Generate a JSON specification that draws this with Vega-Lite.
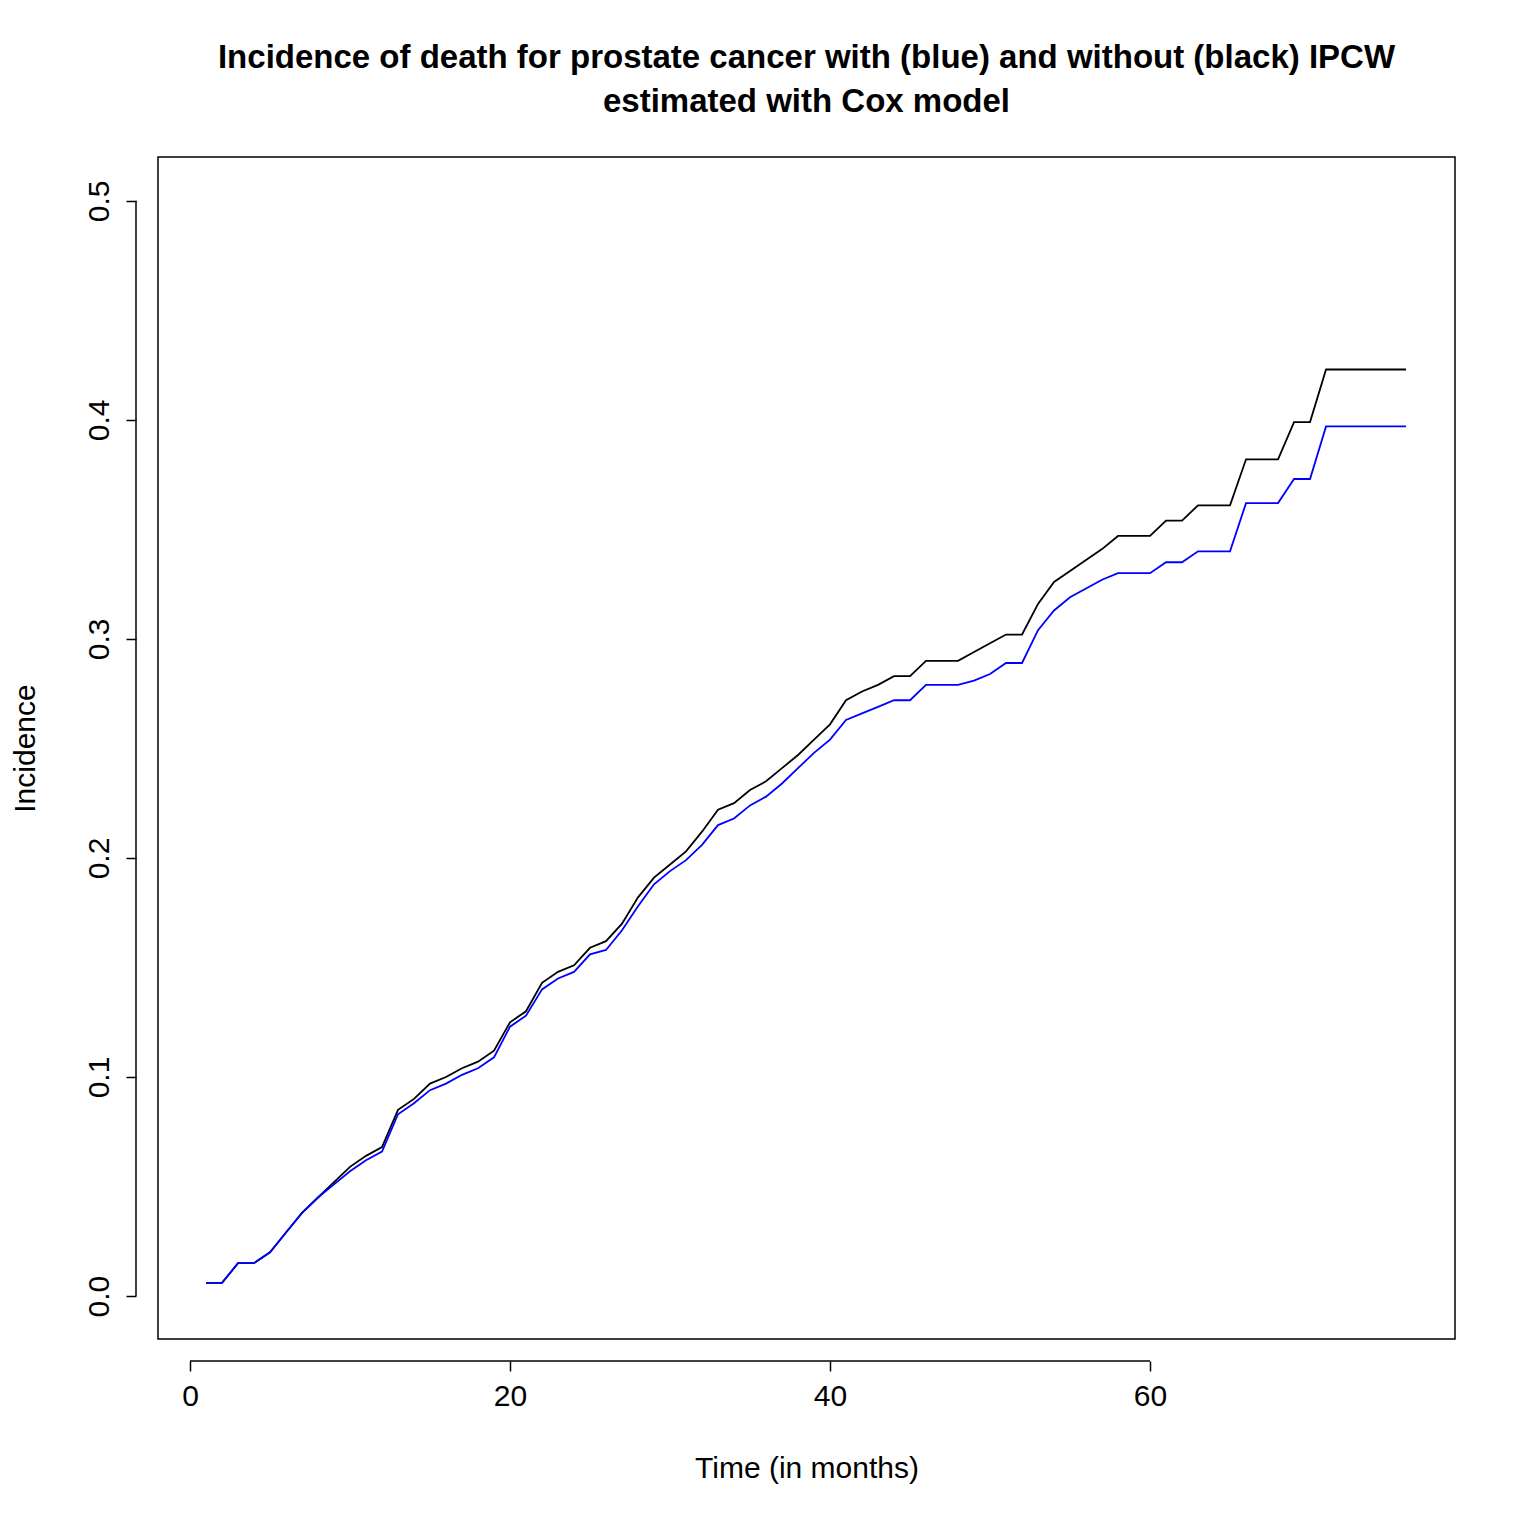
{
  "$schema": "https://vega.github.io/schema/vega-lite/v6.json",
  "autosize": "none",
  "width": 1297,
  "height": 1182,
  "padding": {"left": 158, "top": 157, "right": 81, "bottom": 197},
  "background": "white",
  "config": {
    "view": {"stroke": "black", "strokeWidth": 1.5},
    "font": "Liberation Sans",
    "axis": {
      "domain": false, "grid": false, "ticks": true, "tickColor": "black", "tickSize": 10, "tickWidth": 1.5,
      "labelFont": "Liberation Sans", "labelFontSize": 30, "labelColor": "black",
      "titleFont": "Liberation Sans", "titleFontSize": 30, "titleFontWeight": "normal", "titleColor": "black",
      "offset": 22
    }
  },
  "title": {
    "text": ["Incidence of death for prostate cancer with (blue) and without (black) IPCW", "estimated with Cox model"],
    "fontSize": 33, "fontWeight": "bold", "font": "Liberation Sans", "color": "black",
    "anchor": "middle", "offset": 38, "lineHeight": 44
  },
  "datasets": {
    "curves": [
      {"t":1,"black":0.006,"blue":0.006},{"t":2,"black":0.006,"blue":0.006},{"t":3,"black":0.015,"blue":0.015},
      {"t":4,"black":0.015,"blue":0.015},{"t":5,"black":0.020,"blue":0.020},{"t":6,"black":0.029,"blue":0.029},
      {"t":7,"black":0.038,"blue":0.038},{"t":8,"black":0.045,"blue":0.045},{"t":9,"black":0.052,"blue":0.051},
      {"t":10,"black":0.059,"blue":0.057},{"t":11,"black":0.064,"blue":0.062},{"t":12,"black":0.068,"blue":0.066},
      {"t":13,"black":0.085,"blue":0.083},{"t":14,"black":0.090,"blue":0.088},{"t":15,"black":0.097,"blue":0.094},
      {"t":16,"black":0.100,"blue":0.097},{"t":17,"black":0.104,"blue":0.101},{"t":18,"black":0.107,"blue":0.104},
      {"t":19,"black":0.112,"blue":0.109},{"t":20,"black":0.125,"blue":0.123},{"t":21,"black":0.130,"blue":0.128},
      {"t":22,"black":0.143,"blue":0.140},{"t":23,"black":0.148,"blue":0.145},{"t":24,"black":0.151,"blue":0.148},
      {"t":25,"black":0.159,"blue":0.156},{"t":26,"black":0.162,"blue":0.158},{"t":27,"black":0.170,"blue":0.167},
      {"t":28,"black":0.182,"blue":0.178},{"t":29,"black":0.191,"blue":0.188},{"t":30,"black":0.197,"blue":0.194},
      {"t":31,"black":0.203,"blue":0.199},{"t":32,"black":0.212,"blue":0.206},{"t":33,"black":0.222,"blue":0.215},
      {"t":34,"black":0.225,"blue":0.218},{"t":35,"black":0.231,"blue":0.224},{"t":36,"black":0.235,"blue":0.228},
      {"t":37,"black":0.241,"blue":0.234},{"t":38,"black":0.247,"blue":0.241},{"t":39,"black":0.254,"blue":0.248},
      {"t":40,"black":0.261,"blue":0.254},{"t":41,"black":0.272,"blue":0.263},{"t":42,"black":0.276,"blue":0.266},
      {"t":43,"black":0.279,"blue":0.269},{"t":44,"black":0.283,"blue":0.272},{"t":45,"black":0.283,"blue":0.272},
      {"t":46,"black":0.290,"blue":0.279},{"t":47,"black":0.290,"blue":0.279},{"t":48,"black":0.290,"blue":0.279},
      {"t":49,"black":0.294,"blue":0.281},{"t":50,"black":0.298,"blue":0.284},{"t":51,"black":0.302,"blue":0.289},
      {"t":52,"black":0.302,"blue":0.289},{"t":53,"black":0.316,"blue":0.304},{"t":54,"black":0.326,"blue":0.313},
      {"t":55,"black":0.331,"blue":0.319},{"t":56,"black":0.336,"blue":0.323},{"t":57,"black":0.341,"blue":0.327},
      {"t":58,"black":0.347,"blue":0.330},{"t":59,"black":0.347,"blue":0.330},{"t":60,"black":0.347,"blue":0.330},
      {"t":61,"black":0.354,"blue":0.335},{"t":62,"black":0.354,"blue":0.335},{"t":63,"black":0.361,"blue":0.340},
      {"t":64,"black":0.361,"blue":0.340},{"t":65,"black":0.361,"blue":0.340},{"t":66,"black":0.382,"blue":0.362},
      {"t":67,"black":0.382,"blue":0.362},{"t":68,"black":0.382,"blue":0.362},{"t":69,"black":0.399,"blue":0.373},
      {"t":70,"black":0.399,"blue":0.373},{"t":71,"black":0.423,"blue":0.397},{"t":72,"black":0.423,"blue":0.397},
      {"t":73,"black":0.423,"blue":0.397},{"t":74,"black":0.423,"blue":0.397},{"t":75,"black":0.423,"blue":0.397},
      {"t":76,"black":0.423,"blue":0.397}
    ]
  },
  "layer": [
    {
      "data": {"name": "curves"},
      "mark": {"type": "line", "color": "black", "strokeWidth": 1.8},
      "encoding": {
        "x": {"field": "t", "type": "quantitative", "scale": {"domain": [-2, 79.06], "nice": false, "zero": false},
              "axis": {"values": [0, 20, 40, 60], "title": "Time (in months)", "labelPadding": 10, "titlePadding": 42}},
        "y": {"field": "black", "type": "quantitative", "scale": {"domain": [-0.0196, 0.52], "nice": false, "zero": false},
              "axis": {"values": [0, 0.1, 0.2, 0.3, 0.4, 0.5], "format": ".1f", "labelAngle": -90, "labelAlign": "center", "labelBaseline": "bottom", "labelPadding": 12, "title": "Incidence", "titlePadding": 44}}
      }
    },
    {
      "data": {"name": "curves"},
      "mark": {"type": "line", "color": "#0000ff", "strokeWidth": 1.8},
      "encoding": {
        "x": {"field": "t", "type": "quantitative"},
        "y": {"field": "blue", "type": "quantitative"}
      }
    },
    {
      "data": {"values": [{"x": 0, "x2": 60, "y": -0.0297}]},
      "mark": {"type": "rule", "color": "black", "strokeWidth": 1.5, "clip": false},
      "encoding": {
        "x": {"field": "x", "type": "quantitative"},
        "x2": {"field": "x2"},
        "y": {"field": "y", "type": "quantitative"}
      }
    },
    {
      "data": {"values": [{"x": -3.375, "y": 0, "y2": 0.5}]},
      "mark": {"type": "rule", "color": "black", "strokeWidth": 1.5, "clip": false},
      "encoding": {
        "x": {"field": "x", "type": "quantitative"},
        "y": {"field": "y", "type": "quantitative"},
        "y2": {"field": "y2"}
      }
    }
  ]
}
